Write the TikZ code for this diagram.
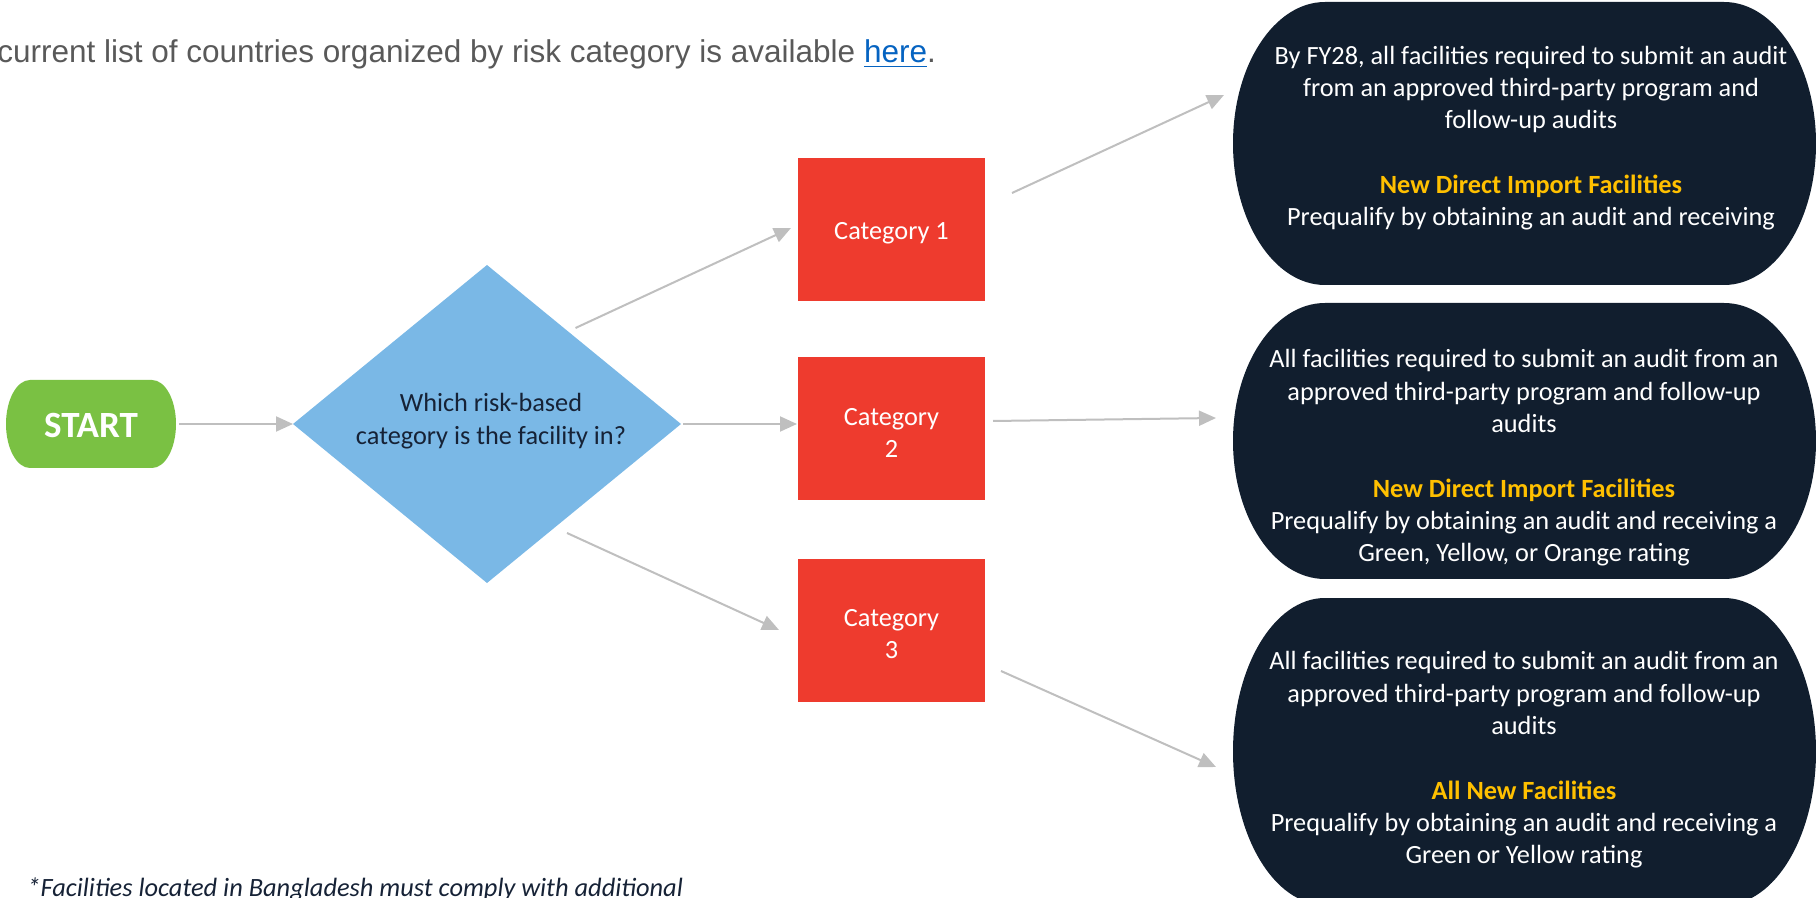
\documentclass[tikz,border=0pt]{standalone}
\usepackage{fontspec}
\setmainfont{Carlito}
\newfontfamily\arialfont{Liberation Sans}
\usetikzlibrary{arrows.meta}
\definecolor{txtgrey}{RGB}{89,89,89}
\definecolor{linkblue}{RGB}{5,99,193}
\definecolor{linegrey}{RGB}{191,191,191}
\definecolor{startgreen}{RGB}{122,193,67}
\definecolor{diamblue}{RGB}{122,184,230}
\definecolor{catred}{RGB}{238,59,46}
\definecolor{navy}{RGB}{17,30,46}
\definecolor{gold}{RGB}{255,192,0}
\definecolor{darktext}{RGB}{22,34,54}
\begin{document}
\begin{tikzpicture}[x=0.5pt,y=-0.5pt,
  conn/.style={draw=linegrey, line width=1pt, -{Triangle[length=8.5pt,width=7.5pt]}},
  body/.style={font=\fontsize{13.15pt}{16.15pt}\selectfont, align=center, inner sep=0pt},
  ovaltext/.style={body, text=white},
  catbox/.style={fill=catred, minimum width=93.5pt, minimum height=71.5pt},
  cattext/.style={body, text=white, font=\fontsize{13.15pt}{16pt}\selectfont}]
\useasboundingbox (0,0) rectangle (1816,898);

% header
\node[anchor=base west, inner sep=0pt, text=txtgrey, font=\arialfont\fontsize{15.75pt}{18pt}\selectfont] (hdr) at (-3,63)
  {current list of countries organized by risk category is available \textcolor{linkblue}{\underline{here}}.};

% START
\fill[startgreen] (30,380) -- (152,380) arc[start angle=90,end angle=-90,x radius=12pt,y radius=22pt]
  -- (30,468) arc[start angle=270,end angle=90,x radius=12pt,y radius=22pt] -- cycle;
\node[inner sep=0pt, text=white, font=\bfseries\fontsize{18.5pt}{20pt}\selectfont] (start) at (91,425) {START};

% diamond
\fill[diamblue] (293,424) -- (487,265) -- (681,424) -- (487,583) -- cycle;
\node[body, text=darktext] (diam) at (491,421) {Which risk-based\\category is the facility in?};

% categories
\node[catbox] (c1) at (891.5,229.5) {};
\node[catbox] (c2) at (891.5,429) {};
\node[catbox] (c3) at (891.5,630.5) {};
\node[cattext] (t1) at (891.5,233) {Category 1};
\node[cattext] (t2) at (891.5,433) {Category\\2};
\node[cattext] (t3) at (891.5,634) {Category\\3};

% ovals
\fill[navy] (1325,2) -- (1724,2) arc[start angle=90,end angle=-90,x radius=46pt,y radius=70.75pt]
  -- (1325,285) arc[start angle=270,end angle=90,x radius=46pt,y radius=70.75pt] -- cycle;
\fill[navy] (1325,303) -- (1724,303) arc[start angle=90,end angle=-90,x radius=46pt,y radius=69pt]
  -- (1325,579) arc[start angle=270,end angle=90,x radius=46pt,y radius=69pt] -- cycle;
\fill[navy] (1325,598) -- (1724,598) arc[start angle=90,end angle=-90,x radius=46pt,y radius=76.75pt]
  -- (1325,905) arc[start angle=270,end angle=90,x radius=46pt,y radius=76.75pt] -- cycle;

\node[ovaltext] (o1) at (1531,138) {By FY28, all facilities required to submit an audit\\from an approved third-party program and\\follow-up audits\\[16.15pt]\textcolor{gold}{\bfseries New Direct Import Facilities}\\Prequalify by obtaining an audit and receiving};
\node[ovaltext] (o2) at (1524,458) {All facilities required to submit an audit from an\\approved third-party program and follow-up\\audits\\[16.15pt]\textcolor{gold}{\bfseries New Direct Import Facilities}\\Prequalify by obtaining an audit and receiving a\\Green, Yellow, or Orange rating};
\node[ovaltext] (o3) at (1524,760) {All facilities required to submit an audit from an\\approved third-party program and follow-up\\audits\\[16.15pt]\textcolor{gold}{\bfseries All New Facilities}\\Prequalify by obtaining an audit and receiving a\\Green or Yellow rating};

% footnote
\node[anchor=base west, inner sep=0pt, text=darktext, font=\itshape\fontsize{13.2pt}{16pt}\selectfont] (foot) at (27,896)
  {*Facilities located in Bangladesh must comply with additional};

% connector end points
\coordinate (s0) at (179,424);  \coordinate (e0) at (293,424);
\coordinate (s1) at (575.5,328); \coordinate (e1) at (791,228);
\coordinate (s2) at (683,424);  \coordinate (e2) at (797,424);
\coordinate (s3) at (567,533);  \coordinate (e3) at (779,630);
\coordinate (s4) at (1012,193); \coordinate (e4) at (1224,95);
\coordinate (s5) at (993,421);  \coordinate (e5) at (1216,418);
\coordinate (s6) at (1001,671); \coordinate (e6) at (1216,767);
\draw[conn] (s0) -- (e0);
\draw[conn] (s1) -- (e1);
\draw[conn] (s2) -- (e2);
\draw[conn] (s3) -- (e3);
\draw[conn] (s4) -- (e4);
\draw[conn] (s5) -- (e5);
\draw[conn] (s6) -- (e6);
\end{tikzpicture}
\end{document}
